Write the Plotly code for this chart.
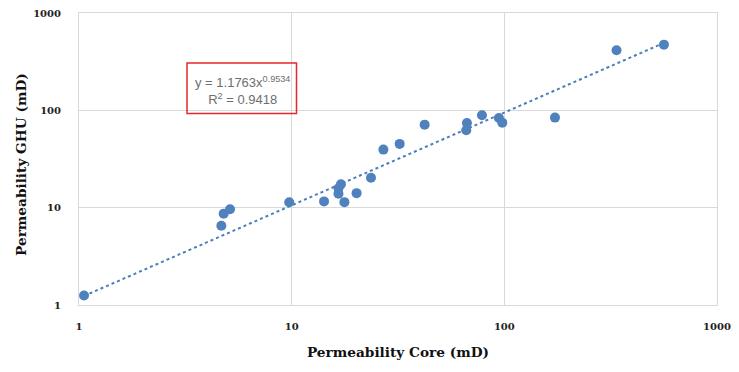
import plotly.graph_objects as go
import numpy as np

core = [1.056, 4.67, 4.79, 5.13, 9.74, 14.2, 16.6, 16.6, 17.05, 17.7, 20.2, 23.6,
        27.0, 32.2, 42.2, 66.7, 66.2, 78.5, 94.3, 97.8, 173, 337, 563]
ghu = [1.25, 6.53, 8.68, 9.62, 11.36, 11.6, 13.9, 15.8, 17.4, 11.4, 14.1, 20.3,
       39.5, 45.2, 71.3, 74.2, 62.4, 89.1, 83.5, 74.7, 84.2, 415, 473]

coef_a = 1.1763
coef_b = 0.9534
r2 = 0.9418
tick_vals = [1, 10, 100, 1000]
tick_text = ["1", "10", "100", "1000"]

xs = np.logspace(np.log10(min(core)), np.log10(max(core)), 60)
ys = coef_a * xs ** coef_b

blue = "#4f81bd"
serif = "DejaVu Serif"
tfont = dict(family=serif, size=10, color="#222222", weight="bold")
title_font = dict(family=serif, size=13.7, color="#111111", weight="bold")

# page body has an 8px offset; plot area targeted at 79..717 x 13..305 on screen
L, T = 71, 5
PW, PH = 638, 292

fig = go.Figure()
fig.add_trace(go.Scatter(x=xs, y=ys, mode="lines",
                         line=dict(color="#4a7ebb", width=2, dash="dot"),
                         hoverinfo="skip"))
fig.add_trace(go.Scatter(x=core, y=ghu, mode="markers",
                         marker=dict(color=blue, size=10)))

axis_common = dict(type="log", tickvals=tick_vals, ticktext=tick_text, automargin=False,
                   showgrid=True, gridcolor="#d9d9d9", gridwidth=1,
                   showline=True, linecolor="#d9d9d9", linewidth=1, mirror=True,
                   zeroline=False, ticks="", tickfont=tfont, ticklabeloverflow="allow")

fig.update_xaxes(range=[0, 3], **axis_common, ticklabelstandoff=12,
                 title=dict(text="Permeability Core (mD)", standoff=16, font=title_font))
fig.update_yaxes(range=[0, 3], **axis_common, ticklabelstandoff=15)

# y-axis title placed as rotated annotation (screen centre ~ (21,165))
fig.add_annotation(xref="paper", yref="paper", xanchor="center", yanchor="middle",
                   x=(13 - L) / PW, y=(T + PH - 157) / PH,
                   text="Permeability GHU (mD)", textangle=-90, showarrow=False,
                   font=title_font)

fig.add_shape(type="rect", xref="paper", yref="paper",
              x0=(187 - 79) / PW, x1=(296.5 - 79) / PW,
              y0=(305 - 113.5) / PH, y1=(305 - 63) / PH,
              line=dict(color="#e8262b", width=1.5))
fig.add_annotation(xref="paper", yref="paper", xanchor="center", yanchor="middle",
                   x=(242 - 79) / PW, y=(305 - 90) / PH,
                   text=f"y = {coef_a}x<sup>{coef_b}</sup><br>R<sup>2</sup> = {r2}",
                   showarrow=False, align="center",
                   font=dict(family="Liberation Sans", size=13, color="#6e6e6e"))

fig.update_layout(width=739, height=372, showlegend=False,
                  margin=dict(l=L, r=739 - L - PW, t=T, b=372 - T - PH),
                  plot_bgcolor="white", paper_bgcolor="white")

fig.write_html("out.html")
